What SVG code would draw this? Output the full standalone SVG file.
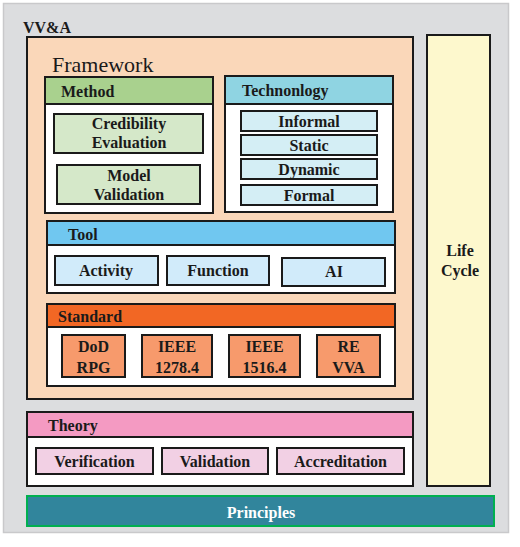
<svg xmlns="http://www.w3.org/2000/svg" width="520" height="547" viewBox="0 0 520 547">
<style>
text{font-family:'Liberation Serif','Times New Roman',Times,'DejaVu Serif',serif;font-weight:bold;font-size:16px;fill:#1a1a1a}
.c{text-anchor:middle}
.box{stroke:#1a1a1a;stroke-width:2}
.item{stroke:#1a1a1a;stroke-width:2}
</style>
<rect width="520" height="547" fill="#ffffff"/>
<g id="vva">
<rect x="3.5" y="3.5" width="505" height="529" fill="#dcdddf" stroke="#c9c9cb" stroke-width="1.5"/>
<text x="23" y="33">VV&amp;A</text>
</g>
<g id="framework">
<rect class="box" x="27" y="37" width="386" height="362" fill="#fad7b9"/>
<text x="52" y="72" style="font-weight:normal;font-size:22px">Framework</text>
</g>
<g id="lifecycle">
<rect class="box" x="427" y="35" width="63" height="451" fill="#fdf8cd"/>
<text class="c" x="460" y="256">Life</text>
<text class="c" x="460" y="276">Cycle</text>
</g>
<g id="method">
<rect class="box" x="45" y="77" width="168" height="136" fill="#ffffff"/>
<rect class="box" x="45" y="77" width="168" height="27" fill="#a9d18e"/>
<text x="61" y="97">Method</text>
</g>
<g id="credibility">
<rect class="item" x="54" y="114" width="149" height="39" fill="#d5e8c9"/>
<text class="c" x="129" y="129">Credibility</text>
<text class="c" x="129" y="148">Evaluation</text>
</g>
<g id="modelvalidation">
<rect class="item" x="57" y="165" width="143" height="39" fill="#d5e8c9"/>
<text class="c" x="129" y="181">Model</text>
<text class="c" x="129" y="200">Validation</text>
</g>
<g id="technology">
<rect class="box" x="225" y="76" width="168" height="136" fill="#ffffff"/>
<rect class="box" x="225" y="76" width="168" height="28" fill="#8fd4e2"/>
<text x="242" y="96">Technonlogy</text>
</g>
<g id="informal">
<rect class="item" x="241" y="111" width="136" height="20" fill="#d4eef5"/>
<text class="c" x="309" y="127">Informal</text>
</g>
<g id="static">
<rect class="item" x="241" y="135" width="136" height="20" fill="#d4eef5"/>
<text class="c" x="309" y="151">Static</text>
</g>
<g id="dynamic">
<rect class="item" x="241" y="159" width="136" height="20" fill="#d4eef5"/>
<text class="c" x="309" y="175">Dynamic</text>
</g>
<g id="formal">
<rect class="item" x="241" y="185" width="136" height="20" fill="#d4eef5"/>
<text class="c" x="309" y="201">Formal</text>
</g>
<g id="tool">
<rect class="box" x="47" y="221" width="348" height="72" fill="#ffffff"/>
<rect class="box" x="47" y="221" width="348" height="24" fill="#70c7f0"/>
<text x="68" y="240">Tool</text>
</g>
<g id="activity">
<rect class="item" x="55" y="256" width="103" height="29" fill="#d1ebfa"/>
<text class="c" x="106" y="276">Activity</text>
</g>
<g id="function">
<rect class="item" x="167" y="256" width="102" height="29" fill="#d1ebfa"/>
<text class="c" x="218" y="276">Function</text>
</g>
<g id="ai">
<rect class="item" x="282" y="258" width="103" height="28" fill="#d1ebfa"/>
<text class="c" x="334" y="277">AI</text>
</g>
<g id="standard">
<rect class="box" x="47" y="304" width="348" height="82" fill="#ffffff"/>
<rect class="box" x="47" y="304" width="348" height="23" fill="#f26724"/>
<text x="58" y="322">Standard</text>
</g>
<g id="dodrpg">
<rect class="item" x="62" y="335" width="63" height="42" fill="#f79a6c"/>
<text class="c" x="93.5" y="352">DoD</text>
<text class="c" x="93.5" y="373">RPG</text>
</g>
<g id="ieee1278">
<rect class="item" x="142" y="335" width="70" height="42" fill="#f79a6c"/>
<text class="c" x="177" y="352">IEEE</text>
<text class="c" x="177" y="373">1278.4</text>
</g>
<g id="ieee1516">
<rect class="item" x="229" y="335" width="71" height="42" fill="#f79a6c"/>
<text class="c" x="264.5" y="352">IEEE</text>
<text class="c" x="264.5" y="373">1516.4</text>
</g>
<g id="revva">
<rect class="item" x="317" y="335" width="63" height="42" fill="#f79a6c"/>
<text class="c" x="348.5" y="352">RE</text>
<text class="c" x="348.5" y="373">VVA</text>
</g>
<g id="theory">
<rect class="box" x="27" y="412" width="386" height="74" fill="#ffffff"/>
<rect class="box" x="27" y="412" width="386" height="25" fill="#f49ac2"/>
<text x="48" y="431">Theory</text>
</g>
<g id="verification">
<rect class="item" x="36" y="448" width="117" height="26" fill="#f2d0e4"/>
<text class="c" x="94.5" y="467">Verification</text>
</g>
<g id="validation">
<rect class="item" x="162" y="448" width="106" height="26" fill="#f2d0e4"/>
<text class="c" x="215" y="467">Validation</text>
</g>
<g id="accreditation">
<rect class="item" x="277" y="448" width="127" height="26" fill="#f2d0e4"/>
<text class="c" x="340.5" y="467">Accreditation</text>
</g>
<g id="principles">
<rect x="27" y="496" width="467" height="30" fill="#31859c" stroke="#00b050" stroke-width="2"/>
<text class="c" x="261" y="518" style="fill:#ffffff">Principles</text>
</g>
<g id="connectors"></g>
</svg>
